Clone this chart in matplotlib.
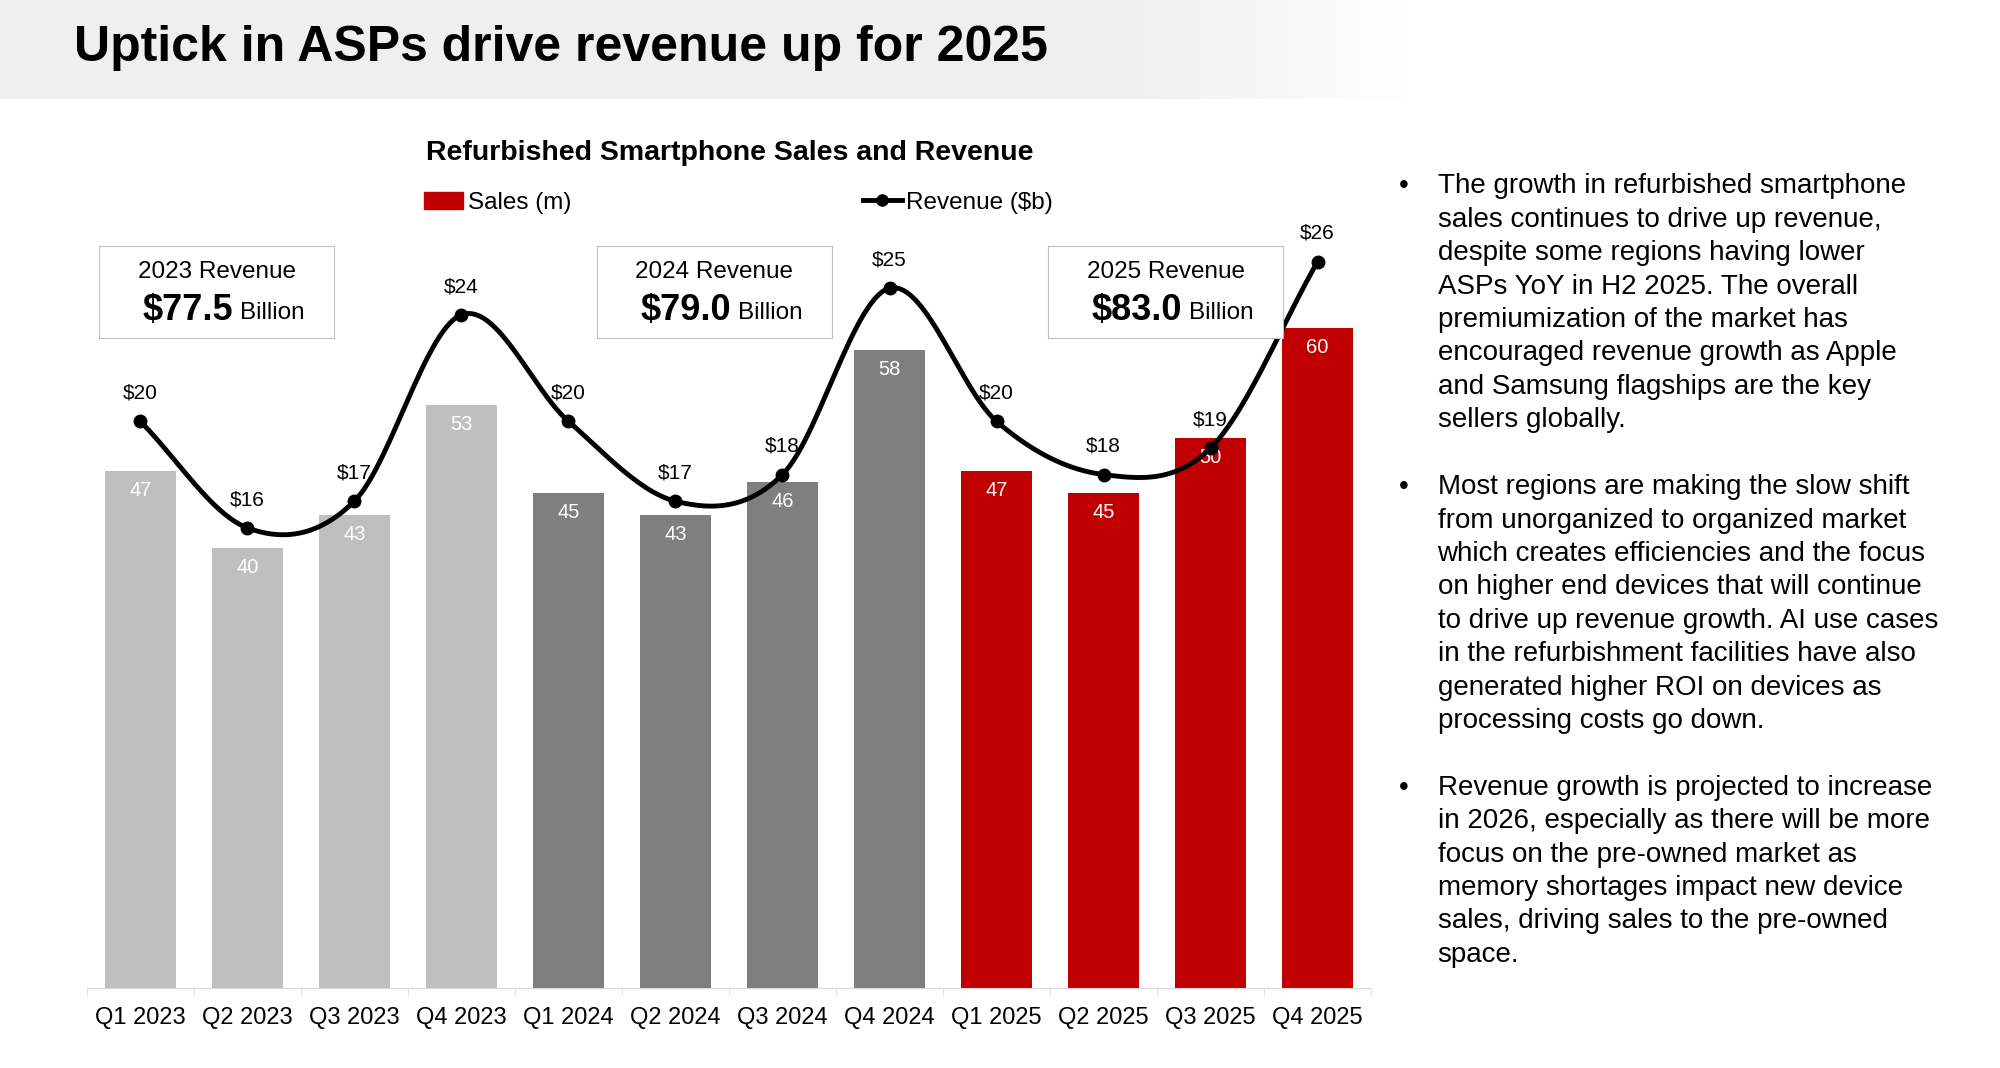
import numpy as np
import matplotlib.pyplot as plt
from matplotlib.lines import Line2D
from matplotlib.patches import Patch

quarters = ["Q1 2023", "Q2 2023", "Q3 2023", "Q4 2023",
            "Q1 2024", "Q2 2024", "Q3 2024", "Q4 2024",
            "Q1 2025", "Q2 2025", "Q3 2025", "Q4 2025"]
sales = [47, 40, 43, 53, 45, 43, 46, 58, 47, 45, 50, 60]
revenue = [20, 16, 17, 24, 20, 17, 18, 25, 20, 18, 19, 26]
bar_colors = ["#bfbfbf"] * 4 + ["#7f7f7f"] * 4 + ["#c00000"] * 4
years = ["2023", "2024", "2025"]
year_totals = ["$77.5", "$79.0", "$83.0"]

bullets = [
    "The growth in refurbished smartphone\nsales continues to drive up revenue,\n"
    "despite some regions having lower\nASPs YoY in H2 2025. The overall\n"
    "premiumization of the market has\nencouraged revenue growth as Apple\n"
    "and Samsung flagships are the key\nsellers globally.",
    "Most regions are making the slow shift\nfrom unorganized to organized market\n"
    "which creates efficiencies and the focus\non higher end devices that will continue\n"
    "to drive up revenue growth. AI use cases\nin the refurbishment facilities have also\n"
    "generated higher ROI on devices as\nprocessing costs go down.",
    "Revenue growth is projected to increase\nin 2026, especially as there will be more\n"
    "focus on the pre-owned market as\nmemory shortages impact new device\n"
    "sales, driving sales to the pre-owned\nspace.",
]

W, H = 1568, 838  # reference layout units


def fx(x):
    return x / W


def fy(y):
    return 1 - y / H


def catmull_rom(x, y, n=30):
    px = np.concatenate([[2 * x[0] - x[1]], x, [2 * x[-1] - x[-2]]])
    py = np.concatenate([[2 * y[0] - y[1]], y, [2 * y[-1] - y[-2]]])
    xs, ys = [], []
    t = np.linspace(0, 1, n)
    for i in range(1, len(px) - 2):
        for p, out in ((px, xs), (py, ys)):
            p0, p1, p2, p3 = p[i - 1:i + 3]
            out.append(0.5 * (2 * p1 + (-p0 + p2) * t + (2 * p0 - 5 * p1 + 4 * p2 - p3) * t ** 2
                              + (-p0 + 3 * p1 - 3 * p2 + p3) * t ** 3))
    return np.concatenate(xs), np.concatenate(ys)


plt.rcParams["font.family"] = ["Liberation Sans", "DejaVu Sans"]
fig = plt.figure(figsize=(20, 10.68), dpi=100)

# title band: light grey fading to white on the right
band = fig.add_axes([0, fy(78), fx(1110), 78 / H])
shade = np.full(200, 0.94)
shade[160:] = np.linspace(0.94, 1.0, 40)
img = np.repeat(np.dstack([shade, shade, shade]), 2, axis=0)
band.imshow(img, aspect="auto", extent=[0, 1, 0, 1])
band.axis("off")
fig.text(fx(58), fy(38), "Uptick in ASPs drive revenue up for 2025",
         fontsize=36, fontweight="bold", va="center")

ax = fig.add_axes([fx(68), fy(775), fx(1075) - fx(68), (775 - 130) / H])
x = np.arange(len(quarters))
ax.bar(x, sales, width=0.66, color=bar_colors)
for xi, s in zip(x, sales):
    ax.text(xi, s - 0.9, str(s), color="white", ha="center", va="top", fontsize=14.5)
ax.set_ylim(0, 74.8)
ax.set_xlim(-0.5, len(quarters) - 0.5)
ax.set_xticks(x)
ax.set_xticklabels(quarters, fontsize=17)
ax.set_xticks(np.arange(-0.5, len(quarters)), minor=True)
ax.tick_params(axis="x", which="major", length=0, pad=14)
ax.tick_params(axis="x", which="minor", length=5, color="#d9d9d9")
ax.set_yticks([])
for side in ("top", "left", "right"):
    ax.spines[side].set_visible(False)
ax.spines["bottom"].set_color("#d9d9d9")

ax2 = ax.twinx()
sx, sy = catmull_rom(x.astype(float), np.array(revenue, float))
ax2.plot(sx, sy, color="black", lw=3.5)
ax2.plot(x, revenue, "o", color="black", ms=9)
for xi, r in zip(x, revenue):
    ax2.text(xi, r + 0.7, f"${r}", ha="center", va="bottom", fontsize=15)
ax2.set_ylim(-1.27, 29.6)
ax2.axis("off")

fig.text(fx(572), fy(120), "Refurbished Smartphone Sales and Revenue",
         fontsize=20.5, fontweight="bold", ha="center", va="center")
handles = [Patch(color="#c00000", label="Sales (m)"),
           Line2D([], [], color="black", lw=3.5, marker="o", ms=8, label="Revenue ($b)")]
fig.legend(handles=handles, loc="center", bbox_to_anchor=(fx(579), fy(159)), ncol=2,
           frameon=False, fontsize=17.5, columnspacing=12, handlelength=1.6, handletextpad=0.2)

for left, yr, tot in zip([78, 468, 822], years, year_totals):
    box = fig.add_axes([fx(left), fy(265), fx(184), 72 / H])
    box.set_xticks([])
    box.set_yticks([])
    for sp in box.spines.values():
        sp.set_color("#bfbfbf")
    box.text(0.5, 0.72, f"{yr} Revenue", ha="center", va="center", fontsize=17.5)
    box.text(0.57, 0.3, tot, ha="right", va="center", fontsize=26, fontweight="bold")
    box.text(0.6, 0.27, "Billion", ha="left", va="center", fontsize=17.5)

tops = [136, 372, 608]
for ty, para in zip(tops, bullets):
    fig.text(fx(1097), fy(ty), "•", fontsize=20, va="top")
    fig.text(fx(1127), fy(ty), para, fontsize=20, va="top", linespacing=1.37)

fig.savefig("out.png", dpi=100)
